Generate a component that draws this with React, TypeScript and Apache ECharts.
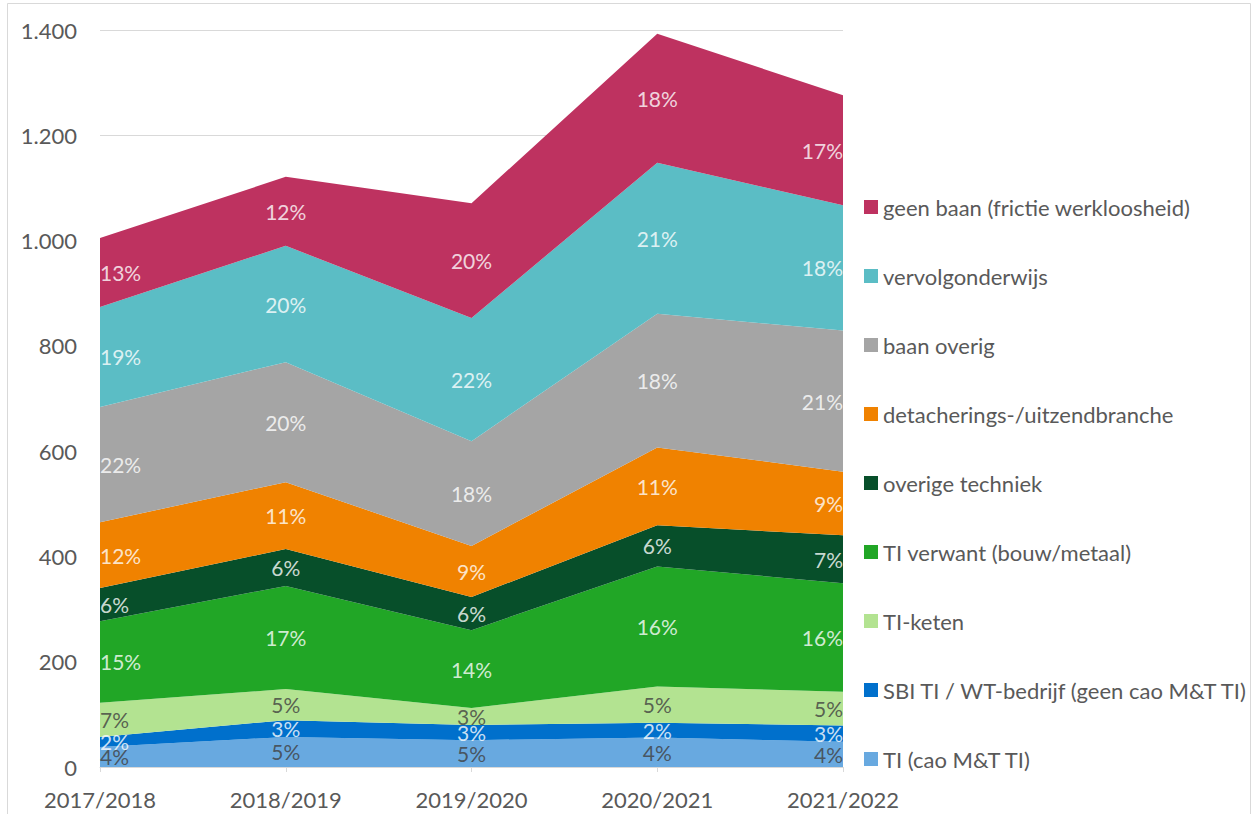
import React, { useEffect, useRef } from "react";
import * as echarts from "echarts";

const categories = ["2017/2018", "2018/2019", "2019/2020", "2020/2021", "2021/2022"];

// stack order from bottom to top
const names = [
  "TI (cao M&T TI)",
  "SBI TI / WT-bedrijf (geen cao M&T TI)",
  "TI-keten",
  "TI verwant (bouw/metaal)",
  "overige techniek",
  "detacherings-/uitzendbranche",
  "baan overig",
  "vervolgonderwijs",
  "geen baan (frictie werkloosheid)",
];

const tiCao = [38, 57, 51, 56, 48];
const sbiTi = [19, 32, 29, 28, 31];
const tiKeten = [65, 59, 32, 69, 64];
const tiVerwant = [155, 196, 148, 228, 206];
const overigeTechniek = [63, 70, 63, 78, 91];
const detachering = [125, 127, 97, 148, 121];
const baanOverig = [219, 228, 199, 254, 268];
const vervolgonderwijs = [190, 221, 234, 287, 238];
const geenBaan = [131, 131, 218, 245, 209];

const pctTiCao = [4, 5, 5, 4, 4];
const pctSbiTi = [2, 3, 3, 2, 3];
const pctTiKeten = [7, 5, 3, 5, 5];
const pctTiVerwant = [15, 17, 14, 16, 16];
const pctOverige = [6, 6, 6, 6, 7];
const pctDetachering = [12, 11, 9, 11, 9];
const pctBaanOverig = [22, 20, 18, 18, 21];
const pctVervolg = [19, 20, 22, 21, 18];
const pctGeenBaan = [13, 12, 20, 18, 17];

const yTicks = [0, 200, 400, 600, 800, 1000, 1200, 1400];

const values = [tiCao, sbiTi, tiKeten, tiVerwant, overigeTechniek, detachering, baanOverig, vervolgonderwijs, geenBaan];
const pcts = [pctTiCao, pctSbiTi, pctTiKeten, pctTiVerwant, pctOverige, pctDetachering, pctBaanOverig, pctVervolg, pctGeenBaan];
const colors = ["#68A9E0", "#0070CC", "#B3E391", "#21A626", "#074F2A", "#F08200", "#A5A5A5", "#5BBDC5", "#BE3260"];
const labelColors = ["#404040", "#FFFFFF", "#404040", "#FFFFFF", "#FFFFFF", "#FFFFFF", "#FFFFFF", "#FFFFFF", "#FFFFFF"];

const FONT = "Lato, 'Noto Sans', sans-serif";

export default function App() {
  const ref = useRef<HTMLDivElement>(null);
  useEffect(() => {
    if (!ref.current) return;
    const chart = echarts.init(ref.current, null, { renderer: "svg" });

    const areaSeries = names.map((name, i) => ({
      type: "line",
      name,
      stack: "total",
      data: values[i],
      symbol: "none",
      showSymbol: false,
      silent: true,
      lineStyle: { width: 0 },
      itemStyle: { color: colors[i] },
      areaStyle: { color: colors[i], opacity: 1 },
      z: 2,
    }));

    const labelSeries = names.map((name, i) => ({
      type: "scatter",
      name: name + " label",
      symbolSize: 1,
      itemStyle: { color: "transparent" },
      silent: true,
      z: 5,
      data: categories.map((_, j) => {
        let base = 0;
        for (let k = 0; k < i; k++) base += values[k][j];
        const mid = base + values[i][j] / 2;
        const align = j === 0 ? "left" : j === categories.length - 1 ? "right" : "center";
        return { value: [j, mid], label: { align } };
      }),
      label: {
        show: true,
        position: "inside",
        fontFamily: FONT,
        fontSize: 21,
        color: labelColors[i],
        formatter: (p: any) => pcts[i][p.dataIndex] + "%",
      },
    }));

    const option = {
      animation: false,
      textStyle: { fontFamily: FONT },
      grid: { left: 100, right: 412, top: 30, bottom: 47, containLabel: false },
      legend: {
        orient: "vertical",
        left: 859,
        top: 191,
        itemWidth: 14,
        itemHeight: 14,
        itemGap: 47,
        icon: "rect",
        selectedMode: false,
        data: names.slice().reverse(),
        textStyle: { fontFamily: FONT, fontSize: 22, color: "#595959", lineHeight: 22 },
      },
      xAxis: {
        type: "category",
        data: categories,
        boundaryGap: false,
        axisLine: { lineStyle: { color: "#D9D9D9", width: 1 } },
        axisTick: { show: true, length: 5, lineStyle: { color: "#D9D9D9" } },
        axisLabel: { fontFamily: FONT, fontSize: 22, color: "#595959", margin: 21 },
      },
      yAxis: {
        type: "value",
        min: yTicks[0],
        max: yTicks[yTicks.length - 1],
        interval: 200,
        axisLine: { show: false },
        axisTick: { show: false },
        splitLine: { lineStyle: { color: "#D9D9D9", width: 1 } },
        axisLabel: {
          fontFamily: FONT,
          fontSize: 22,
          color: "#595959",
          margin: 23,
          formatter: (v: number) => v.toString().replace(/\B(?=(\d{3})+(?!\d))/g, "."),
        },
      },
      graphic: [
        {
          type: "rect",
          shape: { x: 7.5, y: 3.5, width: 1243, height: 830 },
          style: { fill: "none", stroke: "#D9D9D9", lineWidth: 1 },
          silent: true,
          z: 0,
        },
      ],
      series: [...areaSeries, ...labelSeries],
    };
    chart.setOption(option as any);
    return () => chart.dispose();
  }, []);
  return (
    <div
      ref={ref}
      style={{ position: "fixed", left: 0, top: 0, width: 1255, height: 814, background: "#fff" }}
    />
  );
}
